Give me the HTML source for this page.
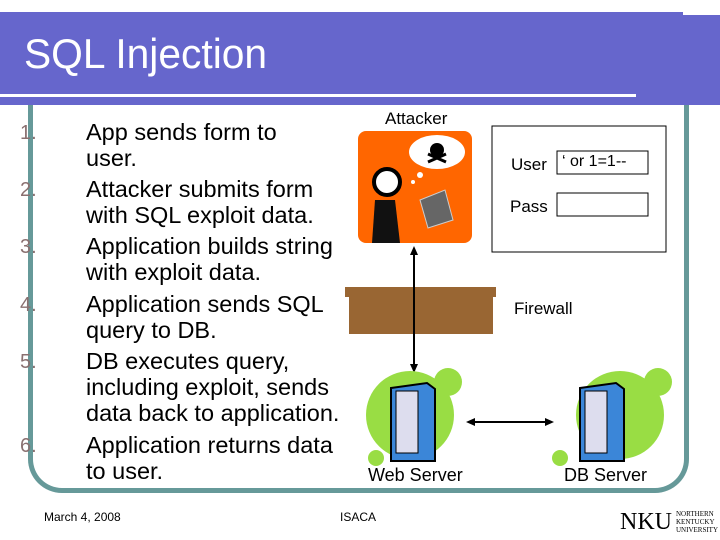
<!DOCTYPE html>
<html><head><style>
body{margin:0;width:720px;height:540px;background:#fff;position:relative;overflow:hidden;font-family:"Liberation Sans",sans-serif}
.a{position:absolute}
.num{position:absolute;left:20px;font-size:20px;color:#8a7070}
.t{position:absolute;left:86px;font-size:23.5px;line-height:26px;color:#000;white-space:nowrap}
</style></head><body>
<div class="a" style="left:0;top:12px;width:720px;height:93px;background:#6666CC"></div>
<div class="a" style="left:683px;top:12px;width:37px;height:3px;background:#fff"></div>
<div class="a" style="left:24px;top:30px;font-size:42px;color:#fff;transform:scaleX(0.97);transform-origin:left">SQL Injection</div>
<div class="a" style="left:0;top:94px;width:636px;height:3px;background:#fff"></div>
<div class="a" style="left:28px;top:105px;width:651px;height:383px;border:5px solid #669999;border-top:none;border-radius:0 0 34px 34px"></div>

<div class="num" style="top:122px">1.</div><div class="t" style="top:119px">App sends form to<br>user.</div>
<div class="num" style="top:179px">2.</div><div class="t" style="top:176px">Attacker submits form<br>with SQL exploit data.</div>
<div class="num" style="top:236px">3.</div><div class="t" style="top:233px">Application builds string<br>with exploit data.</div>
<div class="num" style="top:294px">4.</div><div class="t" style="top:291px">Application sends SQL<br>query to DB.</div>
<div class="num" style="top:351px">5.</div><div class="t" style="top:348px">DB executes query,<br>including exploit, sends<br>data back to application.</div>
<div class="num" style="top:435px">6.</div><div class="t" style="top:432px">Application returns data<br>to user.</div>

<div class="a" style="left:385px;top:109px;font-size:17px">Attacker</div>
<svg class="a" style="left:0;top:0" width="720" height="540">
<rect x="358" y="131" width="114" height="112" rx="8" fill="#ff6600"/>
<ellipse cx="437" cy="152" rx="28" ry="17" fill="#fff"/>
<circle cx="437" cy="150" r="7" fill="#000"/><path d="M428 162l18-8M428 154l18 8" stroke="#000" stroke-width="3"/>
<circle cx="420" cy="175" r="3" fill="#fff"/><circle cx="413" cy="182" r="2" fill="#fff"/>
<circle cx="387" cy="182" r="13" fill="#fff" stroke="#000" stroke-width="4"/>
<path d="M375 200 h20 l5 43 h-28z" fill="#111"/>
<path d="M420 200 l25 -10 l8 30 l-25 8z" fill="#666" stroke="#ccc"/>
<rect x="492" y="126" width="174" height="126" fill="#fff" stroke="#000"/>
<rect x="557" y="151" width="91" height="23" fill="#fff" stroke="#000"/>
<rect x="557" y="193" width="91" height="23" fill="#fff" stroke="#000"/>
<rect x="345" y="287" width="151" height="10" fill="#996633"/>
<rect x="349" y="296" width="144" height="38" fill="#996633"/>
<line x1="414" y1="252" x2="414" y2="367" stroke="#000" stroke-width="2"/>
<path d="M414 246l-4 9h8z M414 373l-4-9h8z" fill="#000"/>
<circle cx="410" cy="415" r="44" fill="#99dd44"/><circle cx="448" cy="382" r="14" fill="#99dd44"/><circle cx="376" cy="458" r="8" fill="#99dd44"/>
<circle cx="620" cy="415" r="44" fill="#99dd44"/><circle cx="658" cy="382" r="14" fill="#99dd44"/><circle cx="560" cy="458" r="8" fill="#99dd44"/>
<path d="M391 388l36-5 8 6v72l-44 0z" fill="#3b86d8" stroke="#000" stroke-width="2"/>
<rect x="396" y="391" width="22" height="62" fill="#dde" stroke="#000"/>
<path d="M580 388l36-5 8 6v72l-44 0z" fill="#3b86d8" stroke="#000" stroke-width="2"/>
<rect x="585" y="391" width="22" height="62" fill="#dde" stroke="#000"/>
<line x1="472" y1="422" x2="548" y2="422" stroke="#000" stroke-width="2"/>
<path d="M466 422l9-4v8z M554 422l-9-4v8z" fill="#000"/>
</svg>
<div class="a" style="left:511px;top:155px;font-size:17px">User</div>
<div class="a" style="left:562px;top:153px;font-size:16px">‘ or 1=1--</div>
<div class="a" style="left:510px;top:197px;font-size:17px">Pass</div>
<div class="a" style="left:514px;top:299px;font-size:17px">Firewall</div>
<div class="a" style="left:368px;top:465px;font-size:18px">Web Server</div>
<div class="a" style="left:564px;top:465px;font-size:18px">DB Server</div>
<div class="a" style="left:44px;top:510px;font-size:12px">March 4, 2008</div>
<div class="a" style="left:340px;top:510px;font-size:12px">ISACA</div>
<div class="a" style="left:620px;top:510px;font-family:'Liberation Serif',serif;font-size:24px;line-height:24px">NKU</div>
<div class="a" style="left:676px;top:510px;font-family:'Liberation Serif',serif;font-size:7px;line-height:8px">NORTHERN<br>KENTUCKY<br>UNIVERSITY</div>
</body></html>
